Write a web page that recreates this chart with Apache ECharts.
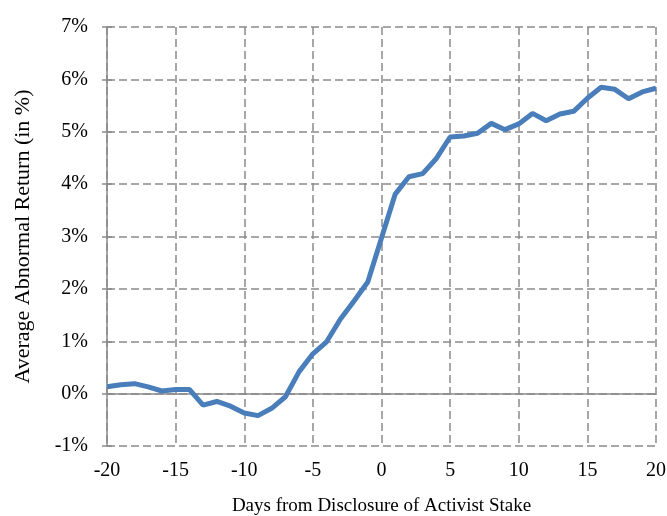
<!DOCTYPE html>
<html>
<head>
<meta charset="utf-8">
<script src="https://cdn.jsdelivr.net/npm/echarts@6/dist/echarts.min.js"></script>
<style>
  html, body { margin: 0; padding: 0; background: #fff; }
  #chart { width: 667px; height: 516px; }
</style>
</head>
<body>
<div id="chart"></div>
<script>
// days relative to disclosure
var days = [-20, -19, -18, -17, -16, -15, -14, -13, -12, -11, -10, -9, -8, -7, -6, -5, -4, -3, -2, -1,
  0, 1, 2, 3, 4, 5, 6, 7, 8, 9, 10, 11, 12, 13, 14, 15, 16, 17, 18, 19, 20]
// average abnormal return, in %
var abnReturn = [0.13, 0.17, 0.19, 0.13, 0.05, 0.08, 0.08, -0.22, -0.15, -0.24, -0.37, -0.42, -0.28, -0.06, 0.42,
  0.76, 0.99, 1.42, 1.77, 2.13, 2.97, 3.81, 4.14, 4.20, 4.49, 4.90, 4.92, 4.97, 5.16, 5.04,
  5.15, 5.35, 5.21, 5.34, 5.39, 5.64, 5.85, 5.81, 5.63, 5.76, 5.83]

var font = 'Liberation Serif'
var gridColor = '#8a8a8a'

var chart = echarts.init(document.getElementById('chart'))
chart.setOption({
  animation: false,
  textStyle: { fontFamily: font, color: '#000' },
  grid: { left: 107, right: 11, top: 27, bottom: 70, outerBoundsMode: 'none', containLabel: false },
  xAxis: {
    type: 'value',
    min: -20,
    max: 20,
    interval: 5,
    name: 'Days from Disclosure of Activist Stake',
    nameLocation: 'middle',
    nameGap: 51,
    nameTextStyle: { fontFamily: font, fontSize: 19, color: '#000' },
    axisLine: { show: false, onZero: false },
    axisTick: { show: false },
    axisLabel: { fontFamily: font, fontSize: 20, color: '#000', margin: 15 },
    splitLine: { show: true, lineStyle: { color: gridColor, width: 1.5, type: [8, 4] } }
  },
  yAxis: [{
    type: 'value',
    min: -1,
    max: 7,
    interval: 1,
    name: 'Average Abnormal Return (in %)',
    nameLocation: 'middle',
    nameGap: 73,
    nameTextStyle: { fontFamily: font, fontSize: 22, color: '#000' },
    axisLine: { show: true, onZero: false, lineStyle: { color: gridColor, width: 1.5 } },
    axisTick: { show: true, length: 5, lineStyle: { color: gridColor, width: 1.5 } },
    axisLabel: { fontFamily: font, fontSize: 20, color: '#000', margin: 19, formatter: '{value}%' },
    splitLine: { show: true, lineStyle: { color: gridColor, width: 1.5, type: [8, 4] } }
  }, {
    type: 'value',
    min: -1,
    max: 7,
    interval: 1,
    position: 'left',
    axisLine: { show: false, onZero: false },
    axisTick: { show: true, inside: true, length: 5, lineStyle: { color: gridColor, width: 1.5 } },
    axisLabel: { show: false },
    splitLine: { show: false }
  }],
  series: [{
    type: 'line',
    data: days.map(function (d, i) { return [d, abnReturn[i]] }),
    showSymbol: false,
    lineStyle: { color: '#4a7ebb', width: 5 },
    itemStyle: { color: '#4a7ebb' },
    z: 3,
    markLine: {
      silent: true,
      symbol: 'none',
      label: { show: false },
      lineStyle: { color: gridColor, width: 1.5, type: 'solid' },
      data: [{ yAxis: 0 }],
      z: 1
    }
  }]
})
</script>
</body>
</html>
